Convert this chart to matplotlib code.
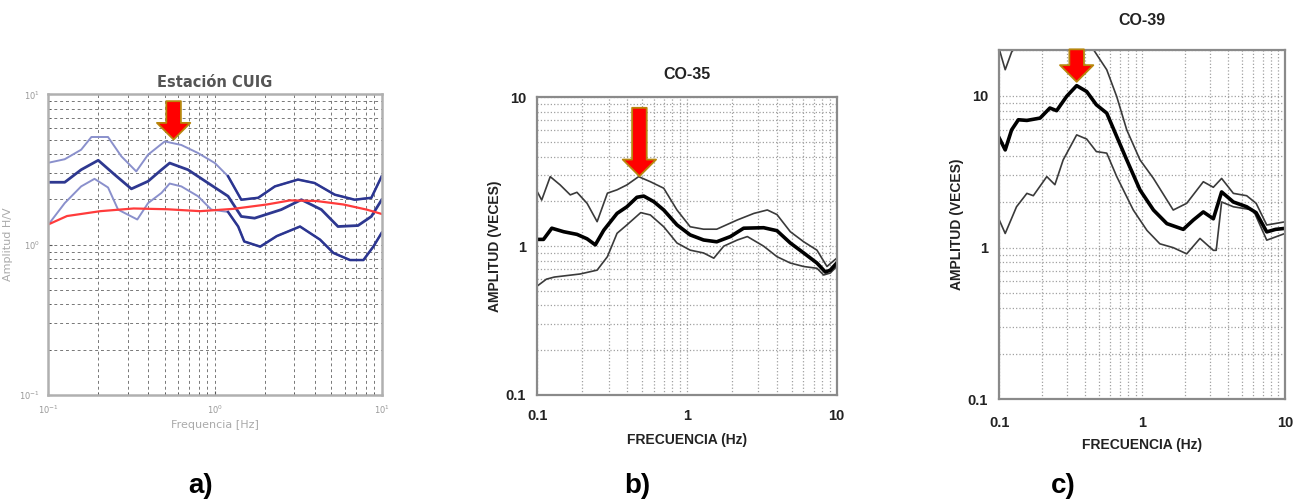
import numpy as np
import matplotlib
matplotlib.use("Agg")
import matplotlib.pyplot as plt
from matplotlib.ticker import LogLocator, NullFormatter

# ---------------- datos panel a) Estación CUIG ----------------
fa_media = [0.10, 0.126, 0.158, 0.200, 0.251, 0.316, 0.398, 0.479, 0.536, 0.690, 0.910, 1.20, 1.44, 1.73, 2.50, 3.30, 4.35, 5.47, 7.21, 8.67, 10.0]
a_media = [2.60, 2.60, 3.15, 3.64, 2.92, 2.35, 2.64, 3.15, 3.49, 3.15, 2.57, 2.10, 1.54, 1.50, 1.71, 1.99, 1.71, 1.32, 1.34, 1.54, 1.99]

fa_sup = [0.10, 0.126, 0.158, 0.182, 0.229, 0.275, 0.338, 0.398, 0.501, 0.630, 0.792, 1.00, 1.20, 1.44, 1.82, 2.29, 3.15, 3.96, 5.23, 6.89, 8.67, 10.0]
a_sup = [3.50, 3.70, 4.28, 5.20, 5.20, 3.87, 3.07, 3.97, 4.86, 4.60, 4.07, 3.49, 2.85, 1.99, 2.05, 2.44, 2.71, 2.57, 2.15, 1.99, 2.05, 2.85]

fa_inf = [0.10, 0.126, 0.158, 0.190, 0.229, 0.263, 0.302, 0.343, 0.398, 0.479, 0.536, 0.630, 0.792, 0.953, 1.20, 1.38, 1.50, 1.87, 2.35, 3.24, 4.27, 5.14, 6.46, 7.77, 8.91, 10.0]
a_inf = [1.35, 1.89, 2.44, 2.74, 2.40, 1.71, 1.58, 1.47, 1.89, 2.21, 2.55, 2.44, 2.10, 1.71, 1.65, 1.32, 1.05, 0.97, 1.14, 1.32, 1.08, 0.88, 0.79, 0.79, 0.97, 1.20]

fa_roja = [0.10, 0.130, 0.206, 0.326, 0.516, 0.817, 1.29, 2.05, 2.83, 4.08, 5.89, 8.13, 10.0]
a_roja = [1.36, 1.55, 1.67, 1.74, 1.72, 1.67, 1.73, 1.85, 1.97, 1.95, 1.85, 1.71, 1.60]

# ---------------- datos panel b) CO-35 ----------------
fb_media = [0.10, 0.110, 0.125, 0.150, 0.184, 0.215, 0.244, 0.278, 0.341, 0.397, 0.463, 0.514, 0.600, 0.699, 0.857, 1.05, 1.29, 1.58, 1.95, 2.39, 3.25, 3.99, 4.90, 6.02, 7.38, 8.40, 9.06, 10.0]
b_media = [1.11, 1.11, 1.32, 1.25, 1.20, 1.12, 1.02, 1.28, 1.66, 1.84, 2.13, 2.17, 1.99, 1.75, 1.39, 1.19, 1.10, 1.07, 1.16, 1.32, 1.33, 1.27, 1.05, 0.90, 0.77, 0.67, 0.69, 0.77]

fb_sup = [0.10, 0.107, 0.122, 0.142, 0.166, 0.184, 0.215, 0.251, 0.294, 0.341, 0.397, 0.475, 0.569, 0.699, 0.857, 1.05, 1.29, 1.58, 2.17, 2.80, 3.44, 3.99, 4.90, 6.02, 7.38, 8.61, 10.0]
b_sup = [2.32, 2.04, 2.93, 2.58, 2.21, 2.30, 1.94, 1.46, 2.27, 2.39, 2.58, 2.93, 2.71, 2.45, 1.75, 1.35, 1.30, 1.30, 1.50, 1.66, 1.75, 1.63, 1.25, 1.07, 0.94, 0.73, 0.83]

fb_inf = [0.10, 0.115, 0.130, 0.193, 0.251, 0.294, 0.341, 0.397, 0.491, 0.569, 0.699, 0.857, 1.05, 1.29, 1.51, 1.76, 2.17, 2.53, 3.25, 3.99, 4.90, 6.02, 7.38, 8.18, 9.06, 10.0]
b_inf = [0.54, 0.60, 0.62, 0.65, 0.69, 0.85, 1.22, 1.39, 1.68, 1.62, 1.35, 1.05, 0.94, 0.90, 0.83, 1.00, 1.10, 1.16, 1.00, 0.85, 0.77, 0.73, 0.71, 0.64, 0.66, 0.73]

# ---------------- datos panel c) CO-39 ----------------
fc_media = [0.10, 0.110, 0.122, 0.136, 0.156, 0.193, 0.226, 0.252, 0.296, 0.348, 0.409, 0.478, 0.565, 0.664, 0.780, 0.966, 1.20, 1.49, 1.94, 2.28, 2.68, 3.15, 3.60, 4.35, 5.39, 6.28, 7.45, 8.60, 10.0]
c_media = [5.27, 4.41, 5.98, 6.97, 6.90, 7.15, 8.33, 8.00, 9.94, 11.7, 10.7, 8.75, 7.71, 5.40, 3.79, 2.40, 1.77, 1.44, 1.32, 1.52, 1.72, 1.55, 2.33, 2.00, 1.86, 1.70, 1.27, 1.32, 1.34]

fc_sup = [0.10, 0.110, 0.122, 0.155, 0.226, 0.296, 0.400, 0.455, 0.565, 0.664, 0.780, 0.966, 1.20, 1.65, 2.05, 2.68, 3.15, 3.60, 4.35, 5.39, 6.28, 7.45, 10.0]
c_sup = [20.3, 14.9, 19.5, 26.0, 30.0, 30.0, 24.0, 20.3, 14.9, 9.90, 5.98, 3.79, 2.86, 1.77, 1.96, 2.72, 2.50, 2.86, 2.28, 2.20, 1.96, 1.41, 1.48]

fc_inf = [0.10, 0.110, 0.132, 0.156, 0.173, 0.215, 0.245, 0.280, 0.348, 0.409, 0.478, 0.565, 0.664, 0.867, 1.08, 1.33, 1.65, 2.05, 2.54, 3.15, 3.30, 3.60, 4.35, 6.00, 7.45, 10.0]
c_inf = [1.52, 1.24, 1.86, 2.28, 2.20, 2.94, 2.60, 3.79, 5.54, 5.20, 4.30, 4.20, 2.94, 1.77, 1.30, 1.06, 1.00, 0.91, 1.15, 0.96, 0.96, 2.00, 1.86, 1.77, 1.12, 1.24]

# flechas (frecuencia, punta, cola)
flechas = {"a": (0.566, 5.0, 9.0), "b": (0.481, 2.95, 8.5), "c": (0.348, 12.4, 20.3)}

W, H = 1306, 503
fig = plt.figure(figsize=(W / 100, H / 100), dpi=100)

def flecha(ax, f, y0, y1):
    ax.annotate("", xy=(f, y0), xytext=(f, y1), annotation_clip=False,
                arrowprops=dict(arrowstyle="simple,head_length=1.2,head_width=2.4,tail_width=1.05",
                                fc="#ff0000", ec="#b8860b", lw=1.3, mutation_scale=10,
                                shrinkA=0, shrinkB=0), zorder=10)

# ---------------- panel a ----------------
ax1 = fig.add_axes([48 / W, 1 - 395 / H, 333.7 / W, 300.7 / H])
ax1.set_xscale("log")
ax1.set_yscale("log")
ax1.set_xlim(0.1, 10)
ax1.set_ylim(0.1, 10)
# curvas de desviación: claras en baja frecuencia, oscuras (ruidosas) en alta
for f, a in [(fa_sup, a_sup), (fa_inf, a_inf)]:
    f = np.array(f)
    a = np.array(a)
    ax1.plot(f, a, color="#8a90cc", lw=1.4)
    alta = f >= 1.2
    ax1.plot(f[alta], a[alta], color="#2b3590", lw=1.8)
ax1.plot(fa_media, a_media, color="#2e3890", lw=2.0)
ax1.plot(fa_roja, a_roja, color="#ff3b3b", lw=1.6)
ax1.grid(True, which="both", ls=(0, (3, 3)), color="#777777", lw=0.7)
for s in ax1.spines.values():
    s.set_color("#b0b0b0")
    s.set_linewidth(1.8)
ax1.xaxis.set_major_locator(LogLocator(base=10, numticks=5))
ax1.yaxis.set_major_locator(LogLocator(base=10, numticks=5))
ax1.tick_params(which="both", direction="in", labelsize=6, colors="#555555", labelcolor="#999999", length=3, pad=6)
ax1.tick_params(which="minor", length=2)
ax1.set_title("Estación CUIG", fontsize=10.5, fontweight="bold", color="#555555", pad=5)
ax1.set_xlabel("Frequencia [Hz]", fontsize=8, color="#aaaaaa", labelpad=3)
ax1.set_ylabel("Amplitud H/V", fontsize=8, color="#aaaaaa", labelpad=4)
flecha(ax1, *flechas["a"])

# ---------------- paneles b y c ----------------
def panel_arial(rect, titulo, fm, am, fs, as_, fi, ai, ytop, pad_t, pad_x, lpad_x):
    ax = fig.add_axes(rect)
    ax.set_xscale("log")
    ax.set_yscale("log")
    ax.set_xlim(0.1, 10)
    ax.set_ylim(0.1, ytop)
    ax.plot(fs, as_, color="#3a3a3a", lw=1.2)
    ax.plot(fi, ai, color="#3a3a3a", lw=1.2)
    ax.plot(fm, am, color="#000000", lw=2.6)
    ax.grid(True, which="both", ls=":", color="#a0a0a0", lw=0.9)
    for s in ax.spines.values():
        s.set_color("#8a8a8a")
        s.set_linewidth(1.6)
    ax.set_xticks([0.1, 1, 10])
    ax.set_xticklabels(["0.1", "1", "10"])
    ax.set_yticks([0.1, 1, 10])
    ax.set_yticklabels(["0.1", "1", "10"])
    ax.xaxis.set_minor_formatter(NullFormatter())
    ax.yaxis.set_minor_formatter(NullFormatter())
    ax.tick_params(which="both", length=0, labelsize=10.5, labelcolor="#222222", pad=8)
    ax.tick_params(axis="x", pad=pad_x)
    for t in ax.get_xticklabels() + ax.get_yticklabels():
        t.set_fontweight("bold")
        t.set_family("Liberation Sans")
    ax.set_title(titulo, fontsize=11.5, fontweight="bold", family="Liberation Sans", color="#222222", pad=pad_t)
    ax.set_xlabel("FRECUENCIA (Hz)", fontsize=10, fontweight="bold", family="Liberation Sans", color="#222222", labelpad=lpad_x)
    ax.set_ylabel("AMPLITUD (VECES)", fontsize=10, fontweight="bold", family="Liberation Sans", color="#222222", labelpad=3)
    return ax

ax2 = panel_arial([537.3 / W, 1 - 395 / H, 299.4 / W, 297.7 / H], "CO-35",
                  fb_media, b_media, fb_sup, b_sup, fb_inf, b_inf, 10, 13, 10, 7)
flecha(ax2, *flechas["b"])

ax3 = panel_arial([999.3 / W, 1 - 399.3 / H, 285.7 / W, 349.3 / H], "CO-39",
                  fc_media, c_media, fc_sup, c_sup, fc_inf, c_inf, 20.1, 18, 12, 6)
flecha(ax3, *flechas["c"])

# etiquetas de los paneles
for txt, x in [("a)", 201), ("b)", 637), ("c)", 1063)]:
    fig.text(x / W, 1 - 486 / H, txt, fontsize=20, fontweight="bold", family="Liberation Sans",
             ha="center", va="center")

fig.savefig("out.png", dpi=100)
